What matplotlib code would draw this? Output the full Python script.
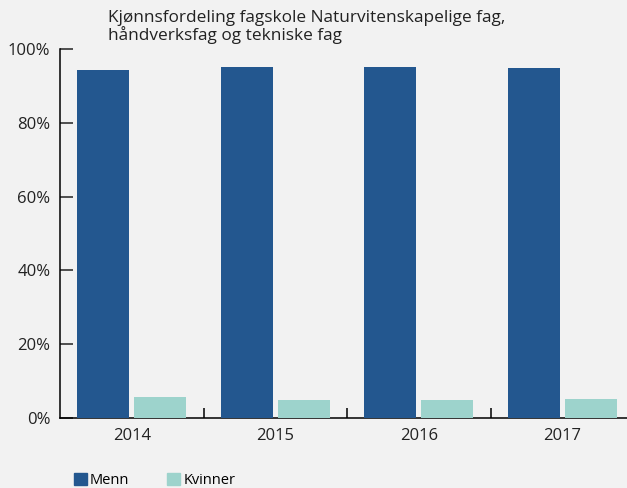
import numpy as np
import matplotlib as mpl
mpl.use('Agg')
import matplotlib.pyplot as plt
from matplotlib.patches import Patch

years = ['2014', '2015', '2016', '2017']
menn = [94.3, 95.1, 95.1, 94.9]
kvinner = [5.7, 4.9, 4.9, 5.1]

plt.rcParams['font.family'] = ['Open Sans', 'DejaVu Sans']

bg = '#f2f2f2'
c_menn = '#23578f'
c_kvinner = '#9dd3cc'
txt = '#222222'

fig = plt.figure(figsize=(6.27, 4.88), dpi=100, facecolor=bg)
W, H = 627, 488
ax = fig.add_axes([60 / W, (H - 418) / H, 574 / W, 369 / H])
ax.set_facecolor(bg)

x = np.arange(len(years))
bw = 0.362
ax.bar(x - 0.019 - bw / 2, menn, width=bw, color=c_menn, zorder=3)
ax.bar(x + 0.019 + bw / 2, kvinner, width=bw, color=c_kvinner, zorder=3)

ax.set_xlim(-0.5, len(years) - 0.5)
ax.set_ylim(0, 100)

for s in ['top', 'right']:
    ax.spines[s].set_visible(False)
ax.spines['left'].set_linewidth(1.1)
ax.spines['bottom'].set_linewidth(1.1)

ax.set_yticks([0, 20, 40, 60, 80, 100])
ax.set_yticklabels(['0%', '20%', '40%', '60%', '80%', '100%'])
ax.tick_params(axis='y', direction='in', length=9.5, width=1.1, pad=7,
               labelsize=12, colors=txt)

ax.set_xticks(x)
ax.set_xticklabels(years)
ax.set_xticks(x[:-1] + 0.5, minor=True)
ax.tick_params(axis='x', which='major', length=0, pad=7, labelsize=12,
               colors=txt)
ax.tick_params(axis='x', which='minor', direction='in', length=7, width=1.1)

fig.text(108 / W, 1 - 10 / H,
         'Kjønnsfordeling fagskole Naturvitenskapelige fag,\nhåndverksfag og tekniske fag',
         ha='left', va='top', fontsize=12.4, color=txt, linespacing=1.02)

handles = [Patch(color=c_menn, label='Menn'), Patch(color=c_kvinner, label='Kvinner')]
fig.legend(handles=handles, loc='upper left', bbox_to_anchor=(74 / W, 1 - 473 / H),
           ncol=2, frameon=False, fontsize=10.5, handlelength=0.9, handleheight=0.9,
           handletextpad=0.2, columnspacing=2.6, borderaxespad=0, borderpad=0)

fig.savefig('out.png', dpi=100, facecolor=bg)
